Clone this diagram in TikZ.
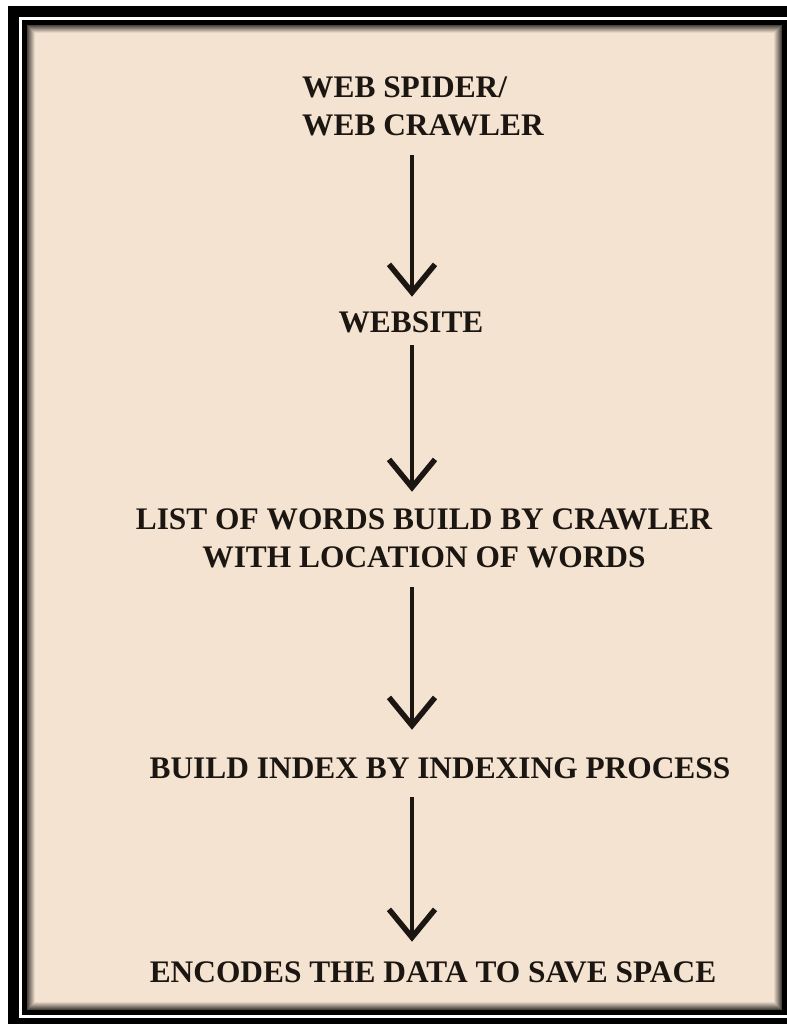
\documentclass[tikz,border=0pt]{standalone}
\usepackage{fontspec}
\setmainfont{Liberation Serif}
\usetikzlibrary{arrows.meta}
\definecolor{bg}{RGB}{243,227,208}
\definecolor{ink}{RGB}{28,22,18}
\begin{document}
\begin{tikzpicture}[x=1bp,y=-1bp,
  lbl/.style={font=\bfseries\fontsize{31.5}{38}\selectfont, text=ink, inner sep=0pt, align=center},
  arr/.style={ink, line width=4bp, -{Straight Barb[length=28bp,width=46bp,line width=5.5bp]}}]
\useasboundingbox (0,0) rectangle (787,1024);
\fill[white] (0,0) rectangle (787,1024);
\fill[black] (8,6) rectangle (800,1040);
\fill[white] (19,17) rectangle (800,1018);
\fill[black] (22,20) rectangle (787,1015);
\fill[bg] (27,25) rectangle (782,1010);
\foreach \i in {0,...,7} {
  \pgfmathtruncatemacro\p{70-9*\i}
  \draw[line width=1bp, black!\p!bg] (27.5+\i,25.5+\i) rectangle (781.5-\i,1009.5-\i);
}
\coordinate (ax) at (412,0);
\node[lbl, align=left, anchor=west] (t1) at (302,106) {WEB SPIDER/\\WEB CRAWLER};
\node[lbl] (t2) at (411,322) {WEBSITE};
\node[lbl] (t3) at (424,538) {LIST OF WORDS BUILD BY CRAWLER\\WITH LOCATION OF WORDS};
\node[lbl] (t4) at (440,768) {BUILD INDEX BY INDEXING PROCESS};
\node[lbl] (t5) at (433,972) {ENCODES THE DATA TO SAVE SPACE};
\draw[arr, shorten <=19.5bp, shorten >=14.5bp] (t1.south -| ax) -- (t2.north -| ax);
\draw[arr, shorten <=12.5bp, shorten >=16.5bp] (t2.south -| ax) -- (t3.north -| ax);
\draw[arr, shorten <=19.5bp, shorten >=27.5bp] (t3.south -| ax) -- (t4.north -| ax);
\draw[arr, shorten <=18.5bp, shorten >=19.5bp] (t4.south -| ax) -- (t5.north -| ax);
\end{tikzpicture}
\end{document}
